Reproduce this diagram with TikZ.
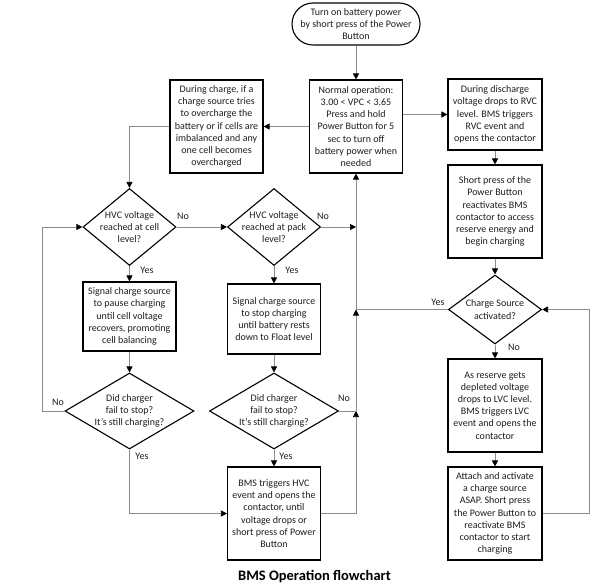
\documentclass[tikz,border=0pt]{standalone}
\usepackage{fontspec}
\setmainfont{Carlito}
\usetikzlibrary{arrows.meta,shapes.geometric,calc}
\definecolor{ink}{HTML}{1E1E1E}
\definecolor{wire}{HTML}{8C8C8C}
\begin{document}
\begin{tikzpicture}[x=1pt,y=-1pt,
  txt/.style={font=\fontsize{10}{12.2}\selectfont, text=ink, align=center},
  box/.style={txt, draw=black, line width=1.1pt, fill=white, inner sep=0pt, minimum width=93pt},
  dia/.style={diamond, draw=black, line width=1.1pt, inner sep=0pt},
  term/.style={txt, draw=black, line width=1.1pt, rounded corners=21pt, inner sep=0pt, minimum width=128pt, minimum height=42pt},
  conn/.style={draw=wire, line width=0.7pt},
  arr/.style={conn, -{Triangle[length=6pt,width=6pt,color=black]}},
  lab/.style={font=\fontsize{10}{12}\selectfont, text=ink},
]
\useasboundingbox (0,0) rectangle (597,588);

% terminal and boxes
\node[term] (start) at (356,24) {Turn on battery power\\by short press of the Power\\Button};
\node[box, minimum height=93pt] (normal) at (356,126.5) {Normal operation:\\3.00 < VPC < 3.65\\Press and hold\\Power Button for 5\\sec to turn off\\battery power when\\needed};
\node[box, minimum height=93pt] (left) at (216.5,126.5) {During charge, if a\\charge source tries\\to overcharge the\\battery or if cells are\\imbalanced and any\\one cell becomes\\overcharged};
\node[box, minimum width=94pt, minimum height=71pt] (disch) at (495,114.5) {During discharge\\voltage drops to RVC\\level. BMS triggers\\RVC event and\\opens the contactor};
\node[box, minimum width=94pt, minimum height=93pt] (short) at (495,211.5) {Short press of the\\Power Button\\reactivates BMS\\contactor to access\\reserve energy and\\begin charging};

% diamonds
\node[dia, minimum width=93pt, minimum height=69pt] (cs) at (495,309.5) {};
\node[txt] (cst) at (cs) {Charge Source\\activated?};
\node[dia, minimum width=93pt, minimum height=77pt] (d1) at (129.5,227) {};
\node[txt] (d1t) at (d1) {HVC voltage\\reached at cell\\level?};
\node[dia, minimum width=93pt, minimum height=77pt] (d2) at (274,227) {};
\node[txt] (d2t) at (d2) {HVC voltage\\reached at pack\\level?};
\node[dia, minimum width=129pt, minimum height=76pt] (d3) at (129.5,411) {};
\node[txt] (d3t) at (d3) {Did charger\\fail to stop?\\It’s still charging?};
\node[dia, minimum width=129pt, minimum height=76pt] (d4) at (274,411) {};
\node[txt] (d4t) at (d4) {Did charger\\fail to stop?\\It’s still charging?};

\node[box, minimum height=69pt] (pause) at (129.5,316.5) {Signal charge source\\to pause charging\\until cell voltage\\recovers, promoting\\cell balancing};
\node[box, minimum height=70pt] (stop) at (274,319) {Signal charge source\\to stop charging\\until battery rests\\down to Float level};
\node[box, minimum height=93pt] (hvc) at (274,513.5) {BMS triggers HVC\\event and opens the\\contactor, until\\voltage drops or\\short press of Power\\Button};
\node[box, minimum width=94pt, minimum height=93pt] (reserve) at (495,405.5) {As reserve gets\\depleted voltage\\drops to LVC level.\\BMS triggers LVC\\event and opens the\\contactor};
\node[box, minimum width=94pt, minimum height=93pt] (attach) at (495,513.5) {Attach and activate\\a charge source\\ASAP. Short press\\the Power Button to\\reactivate BMS\\contactor to start\\charging};

\node[font=\fontsize{14.5}{16}\selectfont\bfseries, text=black] (title) at (314.5,577) {BMS Operation flowchart};

% junction coordinates
\coordinate (jb) at (356,513.5);
\coordinate (j1) at (356,411);
\coordinate (j2) at (356,309.5);
\coordinate (j3) at (356,227);
\coordinate (ll) at (42,411);
\coordinate (rl) at (589,513.5);

% connectors
\draw[arr] (start.south) -- (normal.north);
\draw[arr] (normal.east |- disch.west) -- (disch.west);
\draw[arr] (disch.south) -- (short.north);
\draw[arr] (short.south) -- (cs.north);
\draw[arr] (cs.south) -- (reserve.north);
\draw[arr] (reserve.south) -- (attach.north);
\draw[arr] (attach.east) -- (rl) |- (cs.east);
\draw[conn] (cs.west) -- (j2);
\draw[conn] (hvc.east) -- (jb);
\draw[arr] (jb) -- (j1);
\draw[arr] (j1) -- (j2);
\draw[arr] (j2) -- (normal.south);
\draw[arr] (d2.east) -- (j3);
\draw[conn] (d4.east) -- (j1);
\draw[arr] (normal.west) -- (left.east);
\draw[arr] (left.west) -| (d1.north);
\draw[arr] (d1.east) -- (d2.west);
\draw[arr] (d1.south) -- (pause.north);
\draw[arr] (d2.south) -- (stop.north);
\draw[arr] (pause.south) -- (d3.north);
\draw[arr] (stop.south) -- (d4.north);
\draw[arr] (d3.west) -- (ll) |- (d1.west);
\draw[arr] (d3.south) |- (hvc.west);
\draw[arr] (d4.south) -- (hvc.north);

% labels
\node[lab] (lno1) at (183,216) {No};
\node[lab] (lno2) at (323,216) {No};
\node[lab] (lyes1) at (147,270) {Yes};
\node[lab] (lyes2) at (292,270) {Yes};
\node[lab] (lno3) at (58,402) {No};
\node[lab] (lyes3) at (142,456) {Yes};
\node[lab] (lyes4) at (286,456) {Yes};
\node[lab] (lno4) at (344,398) {No};
\node[lab] (lyes5) at (438,302) {Yes};
\node[lab] (lno5) at (514,347) {No};
\end{tikzpicture}
\end{document}
